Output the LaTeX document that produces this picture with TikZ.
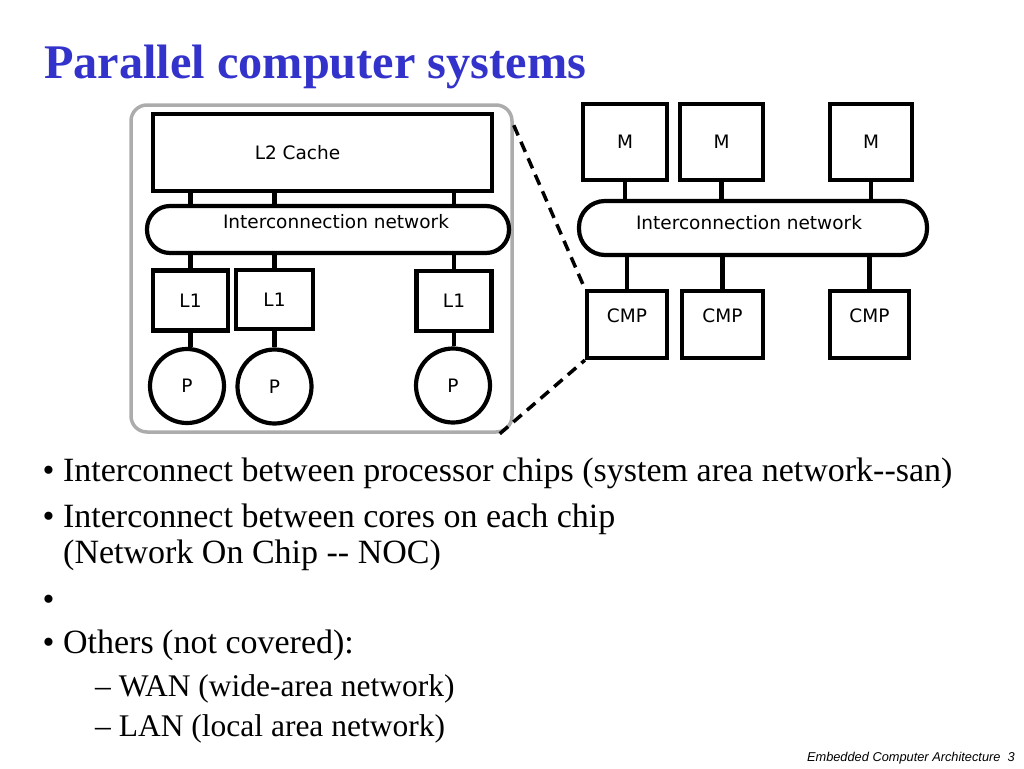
\documentclass[tikz,border=0pt]{standalone}
\usepackage{fontspec}
\setmainfont{Liberation Serif}
\newfontfamily\chipfont{DejaVu Sans}
\newfontfamily\footfont{Liberation Sans}
\usetikzlibrary{positioning}
\definecolor{titleblue}{HTML}{3333CC}
\tikzset{
  chiptext/.style={font=\chipfont\fontsize{18.5}{22}\selectfont},
  box/.style={draw, line width=4.2pt, inner sep=0pt, chiptext},
  net/.style={box, rounded corners=23pt},
  proc/.style={box, circle, minimum size=74pt},
  link/.style={line width=4.2pt},
  zoomline/.style={line width=3.5pt, dash pattern=on 11pt off 7pt},
  chip/.style={draw=gray!65, line width=3.5pt, rounded corners=16pt, inner sep=0pt},
  bullet/.style={anchor=base west, inner sep=0pt, font=\fontsize{34}{38}\selectfont},
  subbullet/.style={bullet, font=\fontsize{31.5}{36}\selectfont},
}

\begin{document}
\begin{tikzpicture}[x=1pt, y=-1pt]
  \useasboundingbox (0,0) rectangle (1024,768);

  \node[anchor=base west, inner sep=0pt, text=titleblue, font=\bfseries\fontsize{48.3}{54}\selectfont] (title) at (44,78) {Parallel computer systems};

  % one chip
  \node[chip, minimum width=381, minimum height=327] (chip) at (321.5,268.5) {};
  \node[box, minimum width=339, minimum height=77,
        label={[chiptext, xshift=-25pt]center:L2 Cache}] (l2) at (322.5,152.5) {};
  \node[net, minimum width=362, minimum height=47,
        label={[chiptext, xshift=8pt, yshift=8pt]center:Interconnection network}] (neta) at (328,229.5) {};
  \node[box, minimum width=75, minimum height=60] (la) at (190.5,300.5) {L1};
  \node[box, minimum width=77, minimum height=59] (lb) at (274.5,299.5) {L1};
  \node[box, minimum width=75, minimum height=60] (lc) at (454,301) {L1};
  \node[proc] (pa) at (187,386) {P};
  \node[proc] (pb) at (274.5,386.5) {P};
  \node[proc] (pc) at (453,385.5) {P};
  \foreach \n/\p in {la/pa, lb/pb, lc/pc} {
    \draw[link] (\n.north |- l2.south) -- (\n.north |- neta.north);
    \draw[link] (\n.north) -- (\n.north |- neta.south);
    \draw[link] (\n.south) -- (\n.south |- \p.north);
  }

  % system of chips
  \node[box, minimum width=84, minimum height=76] (ma) at (625,142) {M};
  \node[box, minimum width=83, minimum height=76] (mb) at (721.5,142) {M};
  \node[box, minimum width=82, minimum height=76] (mc) at (871,142) {M};
  \node[net, minimum width=348, minimum height=54, rounded corners=26pt,
        label={[chiptext, yshift=5pt, xshift=-4pt]center:Interconnection network}] (netb) at (753,228) {};
  \node[box, minimum width=80, minimum height=67,
        label={[chiptext, yshift=9pt]center:CMP}] (ca) at (627,324.5) {};
  \node[box, minimum width=81, minimum height=67,
        label={[chiptext, yshift=9pt]center:CMP}] (cb) at (722.5,324.5) {};
  \node[box, minimum width=79, minimum height=67,
        label={[chiptext, yshift=9pt]center:CMP}] (cc) at (869.5,324.5) {};
  \foreach \m/\c in {ma/ca, mb/cb, mc/cc} {
    \draw[link] (\m.south) -- (\m.south |- netb.north);
    \draw[link] (\c.north) -- (\c.north |- netb.south);
  }

  \draw[zoomline] ([yshift=-22pt]chip.north east) -- (ca.north west);
  \draw[zoomline] ([xshift=-14pt]chip.south east) -- (ca.south west);

  % bullet list
  \node[bullet] (b1) at (42.5,481) {• Interconnect between processor chips (system area network-\kern0pt-san)};
  \node[bullet] (b2) at (42.5,527) {• Interconnect between cores on each chip};
  \node[bullet] (b2b) at (63,563) {(Network On Chip -\kern0pt- NOC)};
  \node[bullet] (b3) at (42.5,610) {•};
  \node[bullet] (b4) at (42.5,653) {• Others (not covered):};
  \node[subbullet] (b5) at (95,696) {– WAN (wide-area network)};
  \node[subbullet] (b6) at (95,736) {– LAN (local area network)};

  \node[anchor=base east, inner sep=0pt, font=\footfont\itshape\fontsize{12.8}{14}\selectfont] (foot) at (1015,761) {Embedded Computer Architecture\ \ 3};
\end{tikzpicture}
\end{document}
